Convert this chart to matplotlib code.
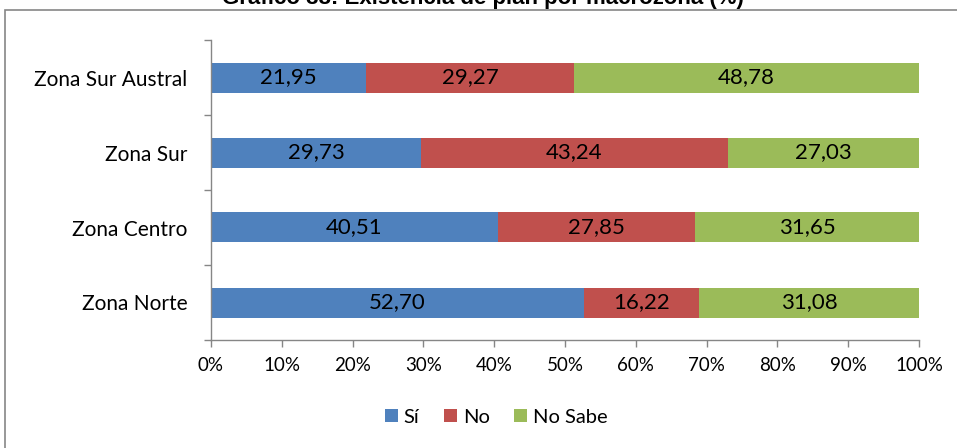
import numpy as np
import matplotlib.pyplot as plt
from matplotlib.patches import Rectangle

# datos
zonas = ["Zona Norte", "Zona Centro", "Zona Sur", "Zona Sur Austral"]
si = [52.70, 40.51, 29.73, 21.95]
no = [16.22, 27.85, 43.24, 29.27]
no_sabe = [31.08, 31.65, 27.03, 48.78]
series = ["Sí", "No", "No Sabe"]
colores = ["#4F81BD", "#C0504D", "#9BBB59"]
titulo = "Gráfico 38: Existencia de plan por macrozona (%)"

plt.rcParams['font.family'] = ['Lato', 'DejaVu Sans']

fig = plt.figure(figsize=(9.57, 4.48), dpi=100)
ax = fig.add_axes([211/957, 1-340/448, (919-211)/957, 300/448])

y = np.arange(len(zonas))
izq = np.zeros(len(zonas))
for vals, nombre, col in zip([si, no, no_sabe], series, colores):
    vals = np.array(vals)
    ax.barh(y, vals, left=izq, height=0.4, color=col, label=nombre)
    for yi, l, v in zip(y, izq, vals):
        ax.text(l + v/2, yi, f"{v:.2f}".replace(".", ","), ha='center', va='center',
                fontsize=16, color='black')
    izq += vals

ax.set_xlim(0, 100)
ax.set_ylim(-0.5, len(zonas)-0.5)
ax.set_xticks(np.arange(0, 101, 10))
ax.set_xticklabels([f"{v}%" for v in range(0, 101, 10)], fontsize=13.5)
ax.set_yticks(np.arange(-0.5, len(zonas), 1))
ax.set_yticklabels([])
ax.set_yticks(y, minor=True)
ax.set_yticklabels(zonas, minor=True, fontsize=15)
ax.tick_params(axis='y', which='minor', length=0, pad=17)
ax.tick_params(axis='y', which='major', length=5, color='#868686', width=1)
ax.tick_params(axis='x', length=5, color='#868686', width=1, pad=7)
for s in ['top', 'right']:
    ax.spines[s].set_visible(False)
for s in ['left', 'bottom']:
    ax.spines[s].set_color('#868686')
    ax.spines[s].set_linewidth(1)

fig.legend(loc='center', bbox_to_anchor=(496/957, 1-417/448), ncol=3, frameon=False,
           handlelength=0.65, handleheight=0.65, handletextpad=0.3, columnspacing=1.2,
           fontsize=14.5)

# marco exterior
fig.patches.append(Rectangle((5/957, -0.1), 1.1, 1.1 - 10/448, transform=fig.transFigure,
                             fill=False, edgecolor='#868686', linewidth=1.2, clip_on=False))

fig.text(483/957, 1-4/448, titulo, ha='center', va='baseline', fontsize=16,
         fontweight='bold', family=['Liberation Sans'])

fig.savefig("out.png", dpi=100)
